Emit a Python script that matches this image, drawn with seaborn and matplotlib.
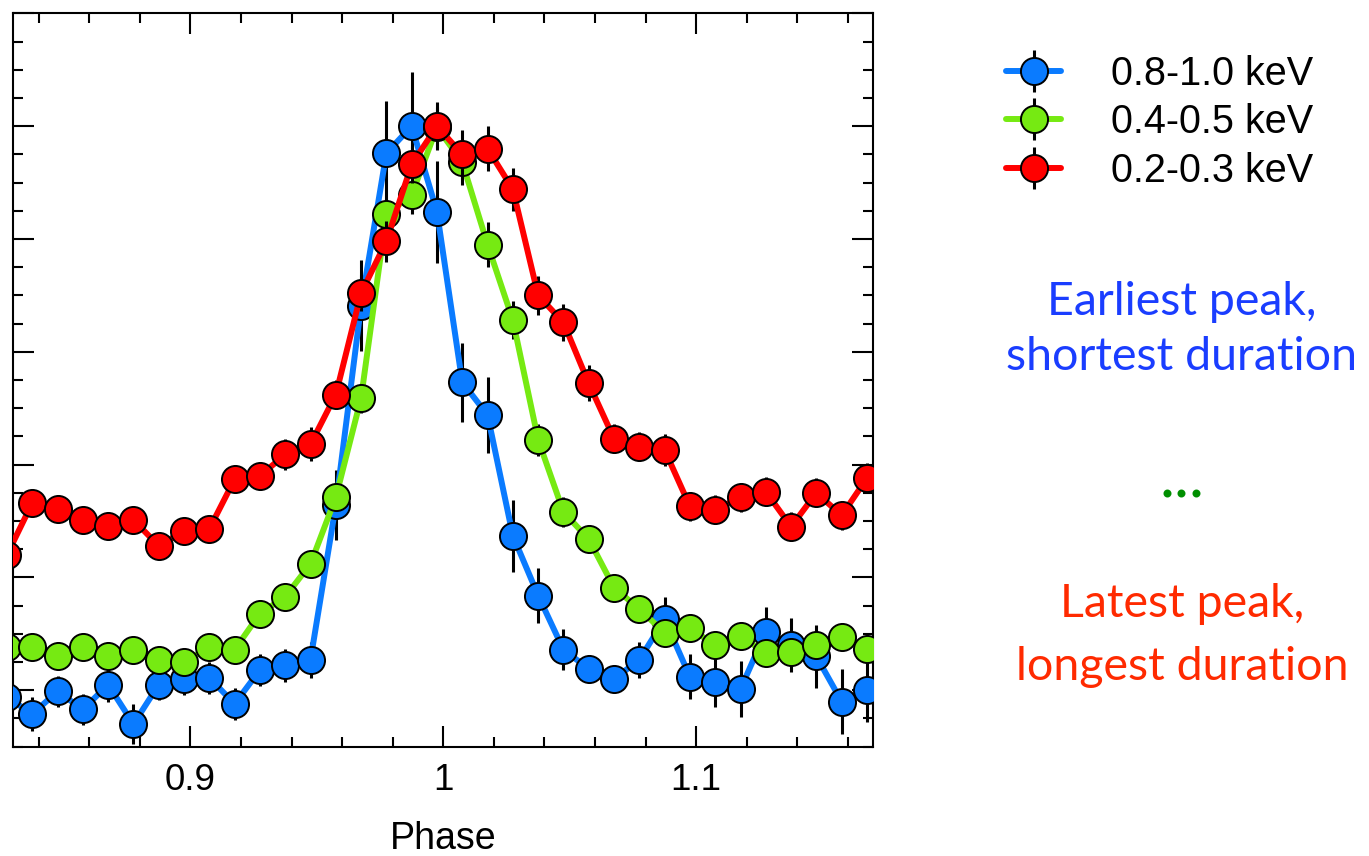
import numpy as np
import pandas as pd
import matplotlib
matplotlib.use("Agg")
import matplotlib.pyplot as plt
from matplotlib.lines import Line2D
from matplotlib.ticker import MultipleLocator, FixedLocator
import seaborn as sns

# ---------------- data ----------------
phase = [0.8275 + 0.01 * k for k in range(35)]

blue_vals = [0.494, 0.479, 0.499, 0.483, 0.505, 0.470, 0.505, 0.510, 0.511, 0.488,
             0.518, 0.522, 0.527, 0.664, 0.841, 0.976, 1.000, 0.924, 0.773, 0.744,
             0.637, 0.584, 0.536, 0.519, 0.510, 0.527, 0.563, 0.512, 0.507, 0.501,
             0.552, 0.540, 0.530, 0.490, 0.500]
blue_err = [0.014, 0.015, 0.014, 0.014, 0.015, 0.018, 0.014, 0.014, 0.014, 0.014,
            0.014, 0.015, 0.016, 0.031, 0.040, 0.046, 0.048, 0.045, 0.035, 0.034,
            0.032, 0.024, 0.018, 0.012, 0.011, 0.016, 0.020, 0.020, 0.022, 0.025,
            0.022, 0.024, 0.028, 0.029, 0.028]

green_vals = [0.538, 0.538, 0.530, 0.538, 0.530, 0.536, 0.527, 0.525, 0.538, 0.536,
              0.568, 0.583, 0.612, 0.671, 0.759, 0.922, 0.939, 0.999, 0.968, 0.895,
              0.828, 0.722, 0.658, 0.634, 0.591, 0.572, 0.551, 0.555, 0.540, 0.548,
              0.533, 0.534, 0.540, 0.547, 0.537]
green_err = [0.009, 0.009, 0.009, 0.009, 0.009, 0.009, 0.009, 0.009, 0.009, 0.009,
             0.010, 0.011, 0.012, 0.011, 0.013, 0.013, 0.017, 0.018, 0.020, 0.020,
             0.017, 0.014, 0.013, 0.012, 0.011, 0.011, 0.011, 0.011, 0.011, 0.011,
             0.011, 0.011, 0.011, 0.011, 0.011]

red_vals = [0.620, 0.666, 0.661, 0.651, 0.646, 0.651, 0.628, 0.641, 0.643, 0.687,
            0.690, 0.709, 0.718, 0.762, 0.852, 0.898, 0.966, 1.000, 0.975, 0.980,
            0.944, 0.850, 0.826, 0.772, 0.723, 0.716, 0.713, 0.663, 0.660, 0.671,
            0.676, 0.645, 0.675, 0.655, 0.688]
red_err = [0.011, 0.011, 0.011, 0.011, 0.011, 0.011, 0.011, 0.011, 0.011, 0.011,
           0.011, 0.014, 0.015, 0.013, 0.016, 0.018, 0.016, 0.021, 0.022, 0.020,
           0.019, 0.017, 0.016, 0.016, 0.013, 0.013, 0.014, 0.013, 0.013, 0.013,
           0.013, 0.013, 0.013, 0.013, 0.013]

labels = ["0.8-1.0 keV", "0.4-0.5 keV", "0.2-0.3 keV"]
colors = ["#0a7bff", "#76ea12", "#ff0000"]
x_ticks = [0.9, 1.0, 1.1]
x_ticklabels = ["0.9", "1", "1.1"]

# ---------------- style ----------------
sns.set_theme(style="white")
plt.rcParams["font.family"] = ["Liberation Sans", "DejaVu Sans"]
plt.rcParams["text.color"] = "black"
plt.rcParams["axes.labelcolor"] = "black"

W, H = 1369, 856
fig = plt.figure(figsize=(W / 100, H / 100), dpi=100)
ax = fig.add_axes([13.3 / W, 1 - 746.7 / H, (873.3 - 13.3) / W, (746.7 - 13.3) / H])

series = [(blue_vals, blue_err), (green_vals, green_err), (red_vals, red_err)]
handles = []
for i, ((vals, err), col, lab) in enumerate(zip(series, colors, labels)):
    z = 2 + 2 * i
    ax.errorbar(phase, vals, yerr=err, fmt="none", ecolor="black",
                elinewidth=2.2, capsize=0, zorder=z)
    df = pd.DataFrame({"phase": phase, "rate": vals})
    sns.lineplot(data=df, x="phase", y="rate", ax=ax, color=col, lw=4.3,
                 marker="o", markersize=19.5, markeredgecolor="black",
                 markeredgewidth=1.4, zorder=z + 1, legend=False, errorbar=None)
    bar = Line2D([], [], ls="none", marker="|", ms=30, mew=2.2, color="black")
    ln = Line2D([], [], color=col, lw=4.3, marker="o", ms=19.5,
                mec="black", mew=1.4)
    handles.append((bar, ln))

ax.set_xlim(0.83, 1.17)
ax.set_ylim(0.45, 1.1)
ax.xaxis.set_major_locator(FixedLocator(x_ticks))
ax.set_xticklabels(x_ticklabels)
ax.xaxis.set_minor_locator(MultipleLocator(0.02))
ax.yaxis.set_major_locator(MultipleLocator(0.1))
ax.yaxis.set_minor_locator(MultipleLocator(0.025))
ax.tick_params(which="both", direction="in", top=True, right=True,
               bottom=True, left=True, color="black", width=1.5,
               labelleft=False, labelcolor="black")
ax.tick_params(which="major", length=15, labelsize=26.5, pad=12)
ax.tick_params(which="minor", length=7.5)
for s in ax.spines.values():
    s.set_color("black")
    s.set_linewidth(1.5)
ax.set_ylabel("")
ax.set_xlabel("Phase", fontsize=27, labelpad=16, color="black")

fig.legend(handles, labels, loc="upper left", bbox_to_anchor=(1006 / W, 1 - 55 / H),
           frameon=False, fontsize=28.5, handlelength=1.4, handletextpad=1.25,
           labelspacing=0.26, borderaxespad=0, borderpad=0, labelcolor="black")

tfam = ["Lato", "DejaVu Sans"]
cx = 1182 / W
fs = 33.5
fig.text(cx, 1 - 315 / H, "Earliest peak,", ha="center", va="baseline",
         fontsize=fs, color="#1a3dff", family=tfam)
fig.text(cx, 1 - 370 / H, "shortest duration", ha="center", va="baseline",
         fontsize=fs, color="#1a3dff", family=tfam)
fig.text(cx, 1 - 498 / H, "...", ha="center", va="baseline",
         fontsize=46, color="#008f00", family=tfam)
fig.text(cx, 1 - 616.7 / H, "Latest peak,", ha="center", va="baseline",
         fontsize=fs, color="#ff2a00", family=tfam)
fig.text(cx, 1 - 680 / H, "longest duration", ha="center", va="baseline",
         fontsize=fs, color="#ff2a00", family=tfam)

fig.savefig("out.png", dpi=100)
